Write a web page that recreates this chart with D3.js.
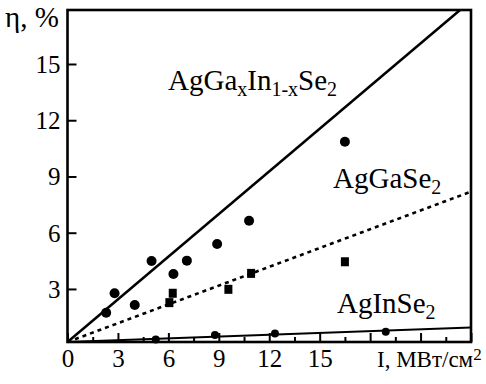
<!DOCTYPE html>
<html><head><meta charset="utf-8">
<script src="https://cdn.jsdelivr.net/npm/d3@7/dist/d3.min.js"></script>
<style>body{margin:0;background:#fff}</style>
</head><body><svg id="c" width="486" height="384" font-family="Liberation Serif"></svg>
<script>
// ---- data ----
const xMajorTicks = [0, 3, 6, 9, 12, 15, 18, 21, 24];
const xLabelTicks = [0, 3, 6, 9, 12, 15];
const xMinorTicks = [1.5, 4.5, 7.5, 10.5, 13.5, 16.5, 19.5, 22.5];
const yTicks = [3, 6, 9, 12, 15];

// AgGaxIn1-xSe2 (filled circles)
const mixedX = [2.3, 2.8, 4.0, 5.0, 6.3, 7.1, 8.9, 10.8, 16.5];
const mixedY = [1.73, 2.77, 2.14, 4.49, 3.8, 4.51, 5.4, 6.64, 10.85];
// AgGaSe2 (filled squares)
const gaSeX = [6.06, 6.26, 9.57, 10.92, 16.5];
const gaSeY = [2.27, 2.77, 2.98, 3.83, 4.45];
// AgInSe2 (small circles)
const inSeX = [5.25, 8.77, 12.34, 18.93];
const inSeY = [0.31, 0.54, 0.63, 0.72];

// fitted lines
const fitMixedX = [0, 23.35], fitMixedY = [0.17, 17.88];
const fitGaSeX = [0, 24], fitGaSeY = [0.17, 8.19];
const fitInSeX = [0, 24], fitInSeY = [0.17, 0.94];

// ---- drawing ----
const svg = d3.select("#c");
const L = 67.5, R = 471, T = 10, B = 342;
const x = d3.scaleLinear().domain([0, 24]).range([L, R]);
const y = d3.scaleLinear().domain([0.17, 17.88]).range([B, T]);

function serif(sel, size) {
  return sel.attr("font-family", "Liberation Serif").attr("font-size", size)
    .style("font-family", '"Liberation Serif"').style("font-size", size + "px");
}

svg.append("rect").attr("width", 486).attr("height", 384).attr("fill", "#fff");

// minor x ticks
svg.append("g").attr("transform", `translate(0,${B})`)
  .call(d3.axisBottom(x).tickValues(xMinorTicks).tickSize(-5).tickFormat(""))
  .call(g => g.select(".domain").remove())
  .selectAll("line").attr("stroke", "#000").attr("stroke-width", 2);

// major x ticks + labels
const gx = svg.append("g").attr("transform", `translate(0,${B})`)
  .call(d3.axisBottom(x).tickValues(xMajorTicks).tickSize(-9).tickPadding(0)
    .tickFormat(d => xLabelTicks.includes(d) ? d : ""));
serif(gx, 25);
gx.select(".domain").remove();
gx.selectAll("line").attr("stroke", "#000").attr("stroke-width", 2);
serif(gx.selectAll("text").attr("y", 25).attr("dy", 0).attr("fill", "#000"), 25);

// y ticks + labels
const gy = svg.append("g").attr("transform", `translate(${L},0)`)
  .call(d3.axisLeft(y).tickValues(yTicks).tickSize(-9).tickPadding(7));
serif(gy, 25);
gy.select(".domain").remove();
gy.selectAll("line").attr("stroke", "#000").attr("stroke-width", 2);
serif(gy.selectAll("text").attr("dy", "0.34em").attr("fill", "#000"), 25);

// frame
svg.append("rect").attr("x", L).attr("y", T).attr("width", R - L).attr("height", B - T)
  .attr("fill", "none").attr("stroke", "#000").attr("stroke-width", 2.6);

// lines
const line = d3.line().x(d => x(d[0])).y(d => y(d[1]));
svg.append("path").datum(d3.zip(fitMixedX, fitMixedY)).attr("d", line)
  .attr("fill", "none").attr("stroke", "#000").attr("stroke-width", 2.5);
svg.append("path").datum(d3.zip(fitGaSeX, fitGaSeY)).attr("d", line)
  .attr("fill", "none").attr("stroke", "#000").attr("stroke-width", 2.6)
  .attr("stroke-dasharray", "4,4");
svg.append("path").datum(d3.zip(fitInSeX, fitInSeY)).attr("d", line)
  .attr("fill", "none").attr("stroke", "#000").attr("stroke-width", 2);

// points
svg.append("g").selectAll("circle").data(d3.zip(mixedX, mixedY)).join("circle")
  .attr("cx", d => x(d[0])).attr("cy", d => y(d[1])).attr("r", 5).attr("fill", "#000");
svg.append("g").selectAll("rect").data(d3.zip(gaSeX, gaSeY)).join("rect")
  .attr("x", d => x(d[0]) - 4).attr("y", d => y(d[1]) - 4.5)
  .attr("width", 8).attr("height", 9).attr("fill", "#000");
svg.append("g").selectAll("circle").data(d3.zip(inSeX, inSeY)).join("circle")
  .attr("cx", d => x(d[0])).attr("cy", d => y(d[1])).attr("r", 4).attr("fill", "#000");

// labels with subscripts
function chem(xp, yp, parts, size) {
  const t = serif(svg.append("text").attr("x", xp).attr("y", yp), size).attr("fill", "#000");
  parts.forEach(([s, sub]) => {
    const sp = t.append("tspan").text(s);
    if (sub) sp.attr("baseline-shift", "-28%").attr("font-size", Math.round(size * 0.7))
      .style("font-size", Math.round(size * 0.7) + "px");
  });
  return t;
}
chem(168, 90, [["AgGa"], ["x", 1], ["In"], ["1-x", 1], ["Se"], ["2", 1]], 29);
chem(333, 188, [["AgGaSe"], ["2", 1]], 29);
chem(337, 313, [["AgInSe"], ["2", 1]], 29);

// axis titles
serif(svg.append("text").attr("x", 5).attr("y", 27), 29).attr("fill", "#000").text("η, %");
const xt = serif(svg.append("text").attr("x", 377).attr("y", 367), 23).attr("fill", "#000");
xt.append("tspan").text("I, МВт/см");
xt.append("tspan").attr("baseline-shift", "40%").attr("font-size", 17).style("font-size", "17px").text("2");
</script></body></html>
